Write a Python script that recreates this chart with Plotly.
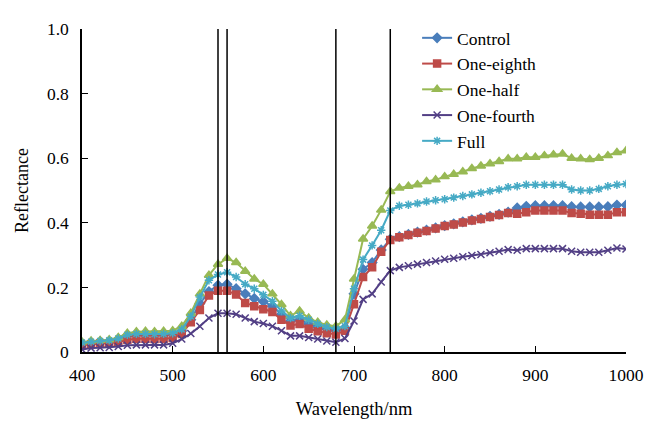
import plotly.graph_objects as go

wavelength = list(range(400, 1001, 10))

control = [0.027, 0.030, 0.032, 0.033, 0.040, 0.050, 0.053, 0.053, 0.053, 0.053, 0.055,
           0.065, 0.100, 0.150, 0.187, 0.207, 0.210, 0.196, 0.180, 0.166, 0.156,
           0.142, 0.117, 0.096, 0.100, 0.087, 0.077, 0.071, 0.066, 0.075, 0.180,
           0.256, 0.277, 0.316, 0.349, 0.357, 0.364, 0.371, 0.377, 0.384, 0.391,
           0.397, 0.403, 0.409, 0.414, 0.420, 0.426, 0.433, 0.446, 0.451, 0.453,
           0.453, 0.453, 0.453, 0.450, 0.449, 0.449, 0.449, 0.450, 0.455, 0.455]

one_eighth = [0.021, 0.024, 0.026, 0.027, 0.031, 0.038, 0.041, 0.041, 0.040, 0.041, 0.043,
              0.056, 0.092, 0.130, 0.175, 0.190, 0.190, 0.178, 0.152, 0.142, 0.132,
              0.124, 0.100, 0.082, 0.087, 0.072, 0.064, 0.058, 0.054, 0.066, 0.148,
              0.232, 0.262, 0.310, 0.347, 0.355, 0.362, 0.369, 0.375, 0.382, 0.390,
              0.395, 0.401, 0.407, 0.412, 0.418, 0.424, 0.430, 0.428, 0.433, 0.438,
              0.438, 0.438, 0.438, 0.430, 0.428, 0.425, 0.425, 0.425, 0.433, 0.433]

one_half = [0.031, 0.034, 0.036, 0.038, 0.045, 0.058, 0.063, 0.064, 0.063, 0.064, 0.066,
            0.080, 0.120, 0.180, 0.238, 0.272, 0.290, 0.277, 0.250, 0.226, 0.210,
            0.180, 0.147, 0.112, 0.127, 0.105, 0.092, 0.084, 0.080, 0.100, 0.226,
            0.350, 0.390, 0.440, 0.497, 0.508, 0.513, 0.518, 0.528, 0.533, 0.543,
            0.550, 0.558, 0.568, 0.576, 0.583, 0.590, 0.598, 0.598, 0.603, 0.603,
            0.608, 0.611, 0.613, 0.600, 0.598, 0.596, 0.600, 0.608, 0.618, 0.623]

one_fourth = [0.008, 0.012, 0.013, 0.014, 0.017, 0.021, 0.022, 0.022, 0.022, 0.022, 0.027,
              0.040, 0.057, 0.080, 0.105, 0.120, 0.120, 0.117, 0.105, 0.094, 0.088,
              0.080, 0.066, 0.050, 0.050, 0.045, 0.040, 0.034, 0.030, 0.042, 0.096,
              0.163, 0.180, 0.217, 0.252, 0.262, 0.267, 0.272, 0.277, 0.282, 0.287,
              0.290, 0.295, 0.299, 0.302, 0.307, 0.312, 0.317, 0.315, 0.320, 0.320,
              0.320, 0.320, 0.320, 0.312, 0.309, 0.309, 0.309, 0.315, 0.322, 0.319]

full = [0.029, 0.032, 0.034, 0.036, 0.042, 0.053, 0.056, 0.056, 0.055, 0.056, 0.058,
        0.070, 0.110, 0.170, 0.222, 0.240, 0.247, 0.232, 0.210, 0.196, 0.177,
        0.157, 0.127, 0.105, 0.112, 0.100, 0.087, 0.077, 0.072, 0.080, 0.196,
        0.286, 0.330, 0.377, 0.438, 0.453, 0.456, 0.460, 0.466, 0.470, 0.473,
        0.478, 0.483, 0.488, 0.493, 0.498, 0.503, 0.510, 0.513, 0.518, 0.518,
        0.518, 0.518, 0.518, 0.503, 0.500, 0.500, 0.505, 0.513, 0.518, 0.520]

marker_lines = [550, 560, 680, 740]

series = [
    ("Control", control, "#4a7ebb", "diamond", 7),
    ("One-eighth", one_eighth, "#be4b48", "square", 7),
    ("One-half", one_half, "#98b954", "triangle-up", 8),
    ("One-fourth", one_fourth, "#523f85", "x-thin-open", 7),
    ("Full", full, "#46aac5", "asterisk-open", 7),
]

FONT = "Liberation Serif"

fig = go.Figure()
for name, vals, color, sym, size in series:
    fig.add_trace(go.Scatter(
        x=wavelength, y=vals, name=name, mode="lines+markers",
        line=dict(color=color, width=2),
        marker=dict(symbol=sym, size=size, color=color,
                    line=dict(color=color, width=1.5)),
    ))

for xv in marker_lines:
    fig.add_shape(type="line", xref="x", yref="y", x0=xv, x1=xv, y0=0, y1=1,
                  line=dict(color="black", width=1.5))

fig.update_layout(
    width=659, height=421,
    margin=dict(l=74, r=41, t=12, b=77),
    paper_bgcolor="white", plot_bgcolor="white",
    font=dict(family=FONT, size=17, color="black"),
    showlegend=True,
    legend=dict(x=0.616, y=1.028, xanchor="left", yanchor="top",
                bgcolor="rgba(0,0,0,0)", font=dict(family=FONT, size=17.5, color="black"),
                tracegroupgap=0),
)
fig.update_xaxes(
    range=[400, 1000], tickvals=[400, 500, 600, 700, 800, 900, 1000],
    showline=True, linecolor="black", linewidth=1.5, ticks="inside",
    ticklen=6, tickcolor="black", showgrid=False, zeroline=False,
    tickfont=dict(family=FONT, size=17.5, color="black"), automargin=False,
    ticklabelstandoff=6,
    title=dict(text="Wavelength/nm", standoff=18, font=dict(family=FONT, size=18.5)),
)
fig.update_yaxes(
    range=[0, 1], tickvals=[0, 0.2, 0.4, 0.6, 0.8, 1.0],
    ticktext=["0", "0.2", "0.4", "0.6", "0.8", "1.0"],
    showline=True, linecolor="black", linewidth=1.5, ticks="inside",
    ticklen=6, tickcolor="black", showgrid=False, zeroline=False,
    tickfont=dict(family=FONT, size=17.5, color="black"), automargin=False,
    ticklabelstandoff=8,
    title=dict(text="Reflectance", standoff=14, font=dict(family=FONT, size=18)),
)

fig.write_html("out.html")
